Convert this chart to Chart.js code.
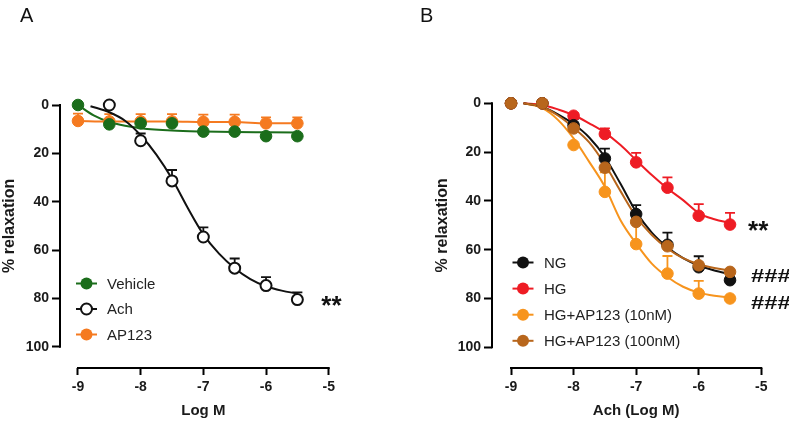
<!DOCTYPE html>
<html><head><meta charset="utf-8">
<script src="https://cdn.jsdelivr.net/npm/chart.js@4.4.1/dist/chart.umd.min.js"></script>
<style>
html,body{margin:0;padding:0;background:#fff;}
body{width:789px;height:428px;position:relative;overflow:hidden;}
canvas{position:absolute;top:0;}
#ca{left:0;} #cb{left:395px;}
</style></head><body>
<canvas id="ca" width="395" height="428"></canvas>
<canvas id="cb" width="394" height="428"></canvas>
<script>
// ---------- data ----------
const doseX = [-9, -8.5, -8, -7.5, -7, -6.5, -6, -5.5];
const xTicks = [-9, -8, -7, -6, -5];
const yTicks = [0, 20, 40, 60, 80, 100];
const fitX = [-8.8, -8.5, -8.25, -8, -7.75, -7.5, -7.25, -7, -6.75, -6.5, -6.25, -6, -5.75, -5.5];

// Panel A
const namesA = ['Vehicle', 'Ach', 'AP123'];
const vehicleMean = [0, 8, 7.6, 7.6, 11, 11, 12.9, 12.9];
const vehicleErr  = [0, 0, 0, 0, 0, 0, 0, 0];
const achMean = [null, 0, 14.8, 31.4, 54.6, 67.5, 74.7, 80.5];
const achErr  = [0, 0, 3, 4.5, 4, 4, 3.5, 3];
const ap123Mean = [6.6, 6.8, 6.8, 6.8, 7, 7, 7.6, 7.6];
const ap123Err  = [3, 3, 3, 3, 3, 3, 2.5, 2.5];
const vehicleFitX = [-9, -8.75, -8.5, -8.25, -8, -7.5, -7, -6.5, -6, -5.5];
const vehicleFit  = [0, 4.3, 7, 8.6, 9.6, 10.6, 11, 11.2, 11.3, 11.4];
const achFit = [0.5, 3, 6.5, 12.5, 20.5, 30.5, 42.5, 53.5, 61.5, 67.5, 72, 75, 76.8, 78];

// Panel B
const namesB = ['NG', 'HG', 'HG+AP123 (10nM)', 'HG+AP123 (100nM)'];
const ngMean = [0, 0, 9, 22.6, 45.4, 58, 67.2, 72.5];
const ngErr  = [0, 0, 2.5, 4, 3.7, 5, 4.5, 0];
const hgMean = [0, 0, 5.1, 12.6, 24.2, 34.6, 46.1, 49.7];
const hgErr  = [0, 0, 1, 2.3, 3.9, 4.2, 4.8, 4.8];
const ap10Mean = [0, 0, 17.1, 36.3, 57.7, 69.8, 78, 80];
const ap10Err  = [0, 0, 0, 8, 10, 7.2, 5.2, 0];
const ap100Mean = [0, 0, 10.3, 26.4, 48.6, 58.6, 66.4, 69.1];
const ap100Err  = [0, 0, 0, 0, 0, 0, 0, 0];
const ngFit    = [0, 1.5, 4.5, 8.5, 14, 22, 33, 44.5, 53, 59, 63.5, 66.5, 68.5, 70];
const hgFit    = [0, 0.7, 2.5, 4.8, 8.2, 12, 17.1, 23.3, 29.4, 34.9, 39.7, 45, 47.5, 49];
const ap10Fit  = [0, 2, 6.8, 14.4, 24, 34.2, 47.9, 57.5, 65.7, 71.2, 75.2, 77.6, 78.9, 79.6];
const ap100Fit = [0, 1.5, 5, 10, 16, 25, 36, 46.5, 54, 59.5, 63.5, 66, 67.5, 68.5];

// ---------- helpers ----------
const FONT = "'Liberation Sans', Arial, Helvetica, sans-serif";
Chart.defaults.font.family = FONT;
const pts = (xs, ys) => xs.map((x, i) => ({x: x, y: ys[i]}));

function pointSet(label, color, xs, ys, errs, order, open) {
  return {label: label, data: pts(xs, ys), errors: errs, legend: true, open: !!open,
    showLine: false, pointRadius: open ? 5.5 : 5.8, pointBorderWidth: open ? 2 : 1,
    borderColor: color, backgroundColor: open ? '#ffffff' : color,
    pointBackgroundColor: open ? '#ffffff' : color, pointBorderColor: color,
    order: order, clip: false};
}
function lineSet(color, xs, ys, order) {
  return {data: pts(xs, ys), showLine: true, pointRadius: 0, borderWidth: 2,
    borderColor: color, backgroundColor: color, cubicInterpolationMode: 'monotone',
    order: order, clip: false};
}

function panelPlugin(p) {
  return {
    id: 'panel' + p.letter,
    beforeDatasetsDraw(chart) {
      const ctx = chart.ctx, xs = chart.scales.x, ys = chart.scales.y;
      ctx.save();
      ctx.lineWidth = 1.8;
      chart.data.datasets.forEach(ds => {
        if (!ds.errors) return;
        ctx.strokeStyle = ds.borderColor;
        ds.data.forEach((pt, i) => {
          const e = ds.errors[i];
          if (pt.y == null || !e) return;
          const px = xs.getPixelForValue(pt.x), py = ys.getPixelForValue(pt.y);
          const pe = ys.getPixelForValue(pt.y - e);
          ctx.beginPath();
          ctx.moveTo(px, py); ctx.lineTo(px, pe);
          ctx.moveTo(px - 5, pe); ctx.lineTo(px + 5, pe);
          ctx.stroke();
        });
      });
      ctx.restore();
    },
    afterDraw(chart) {
      const ctx = chart.ctx, xs = chart.scales.x, ys = chart.scales.y, ca = chart.chartArea;
      ctx.save();
      // axis lines
      ctx.strokeStyle = '#000'; ctx.lineWidth = 2;
      ctx.beginPath();
      ctx.moveTo(ca.left, ys.getPixelForValue(yTicks[0]) - 1);
      ctx.lineTo(ca.left, ys.getPixelForValue(yTicks[yTicks.length - 1]) + 1);
      ctx.moveTo(xs.getPixelForValue(xTicks[0]) - 1, ca.bottom);
      ctx.lineTo(xs.getPixelForValue(xTicks[xTicks.length - 1]) + 1, ca.bottom);
      ctx.stroke();
      // axis titles
      ctx.fillStyle = '#1a1a1a';
      ctx.textAlign = 'center'; ctx.textBaseline = 'middle';
      ctx.font = 'bold 15px ' + FONT;
      ctx.fillText(p.xTitle, xs.getPixelForValue(-7), 411);
      ctx.save();
      ctx.translate(p.yTitleX, (ys.getPixelForValue(0) + ys.getPixelForValue(100)) / 2);
      ctx.rotate(-Math.PI / 2);
      ctx.font = 'bold 16px ' + FONT;
      ctx.fillText(p.yTitle, 0, 0);
      ctx.restore();
      // panel letter
      ctx.textAlign = 'left';
      ctx.font = '20px ' + FONT;
      ctx.fillStyle = '#111';
      ctx.fillText(p.letter, p.letterX, 16);
      // legend
      const L = p.legend;
      let k = 0;
      chart.data.datasets.filter(d => d.legend).sort((a, b) => a.legendIndex - b.legendIndex).forEach(ds => {
        const y = L.y + k * L.dy;
        ctx.strokeStyle = ds.borderColor; ctx.lineWidth = 2;
        ctx.beginPath(); ctx.moveTo(L.x, y); ctx.lineTo(L.x + L.len, y); ctx.stroke();
        ctx.beginPath(); ctx.arc(L.x + L.len / 2, y, ds.open ? 5.5 : 6, 0, Math.PI * 2);
        ctx.fillStyle = ds.open ? '#fff' : ds.borderColor; ctx.fill();
        if (ds.open) ctx.stroke();
        ctx.fillStyle = '#222';
        ctx.font = '15px ' + FONT;
        ctx.textBaseline = 'middle';
        ctx.fillText(ds.label, L.tx, y + 1);
        k++;
      });
      // significance marks
      p.annos.forEach(a => {
        ctx.save();
        ctx.font = 'bold ' + a.size + 'px ' + FONT;
        ctx.fillStyle = '#111';
        ctx.textBaseline = 'alphabetic';
        const yc = ys.getPixelForValue(a.y);
        ctx.translate(xs.getPixelForValue(a.x) + a.dx, yc + a.size * a.k);
        ctx.scale(a.sx || 1, 1);
        ctx.fillText(a.t, 0, 0);
        ctx.restore();
      });
      ctx.restore();
    }
  };
}

function makeChart(id, datasets, geo, p) {
  const canvas = document.getElementById(id);
  return new Chart(canvas, {
    type: 'scatter',
    data: {datasets: datasets},
    options: {
      responsive: false, animation: false, devicePixelRatio: 1, events: [],
      layout: {padding: {left: 0, top: geo.top, right: geo.right, bottom: 0}},
      plugins: {legend: {display: false}, tooltip: {enabled: false}},
      scales: {
        x: {type: 'linear', position: 'bottom', min: geo.xMin, max: -5,
          afterBuildTicks: s => { s.ticks = xTicks.map(v => ({value: v})); },
          afterFit: s => { s.height = 60; },
          ticks: {font: {size: 14, weight: 'bold'}, color: '#1a1a1a', padding: 4},
          grid: {drawOnChartArea: false, drawTicks: true, tickLength: 7, tickWidth: 2, tickColor: '#000'},
          border: {display: false}},
        y: {type: 'linear', position: 'left', reverse: true, min: 0, max: geo.yMax,
          afterBuildTicks: s => { s.ticks = yTicks.map(v => ({value: v})); },
          afterFit: s => { s.width = geo.yw; },
          ticks: {font: {size: 14, weight: 'bold'}, color: '#1a1a1a', padding: 3},
          grid: {drawOnChartArea: false, drawTicks: true, tickLength: 8, tickWidth: 2, tickColor: '#000'},
          border: {display: false}}
      }
    },
    plugins: [panelPlugin(p)]
  });
}

// ---------- Panel A ----------
const cGreen = '#1b6d1b', cOrangeA = '#f57a20', cBlack = '#111111';
const dsA = [
  lineSet(cGreen, vehicleFitX, vehicleFit, 6),
  lineSet(cOrangeA, doseX, ap123Mean, 5),
  Object.assign(pointSet(namesA[2], cOrangeA, doseX, ap123Mean, ap123Err, 4), {legendIndex: 2}),
  Object.assign(pointSet(namesA[0], cGreen, doseX, vehicleMean, vehicleErr, 3), {legendIndex: 0}),
  lineSet(cBlack, fitX, achFit, 1),
  Object.assign(pointSet(namesA[1], cBlack, doseX, achMean, achErr, 0, true), {legendIndex: 1})
];
makeChart('ca', dsA, {top: 105, right: 66.3, xMin: -9.287, yMax: 108.8, yw: 60},
  {letter: 'A', letterX: 20, yTitle: '% relaxation', yTitleX: 10, xTitle: 'Log M',
   legend: {x: 76, y: 283.5, dy: 25.5, len: 21, tx: 107},
   annos: [{t: '**', x: -5.5, y: 80.5, dx: 24, size: 26, k: 0.57}]});

// ---------- Panel B ----------
const cRed = '#ee1c24', cAmber = '#f7941d', cBrown = '#b8661c';
const dsB = [
  lineSet(cAmber, fitX, ap10Fit, 9),
  lineSet(cRed, fitX, hgFit, 8),
  lineSet(cBlack, fitX, ngFit, 7),
  lineSet(cBrown, fitX, ap100Fit, 6),
  Object.assign(pointSet(namesB[2], cAmber, doseX, ap10Mean, ap10Err, 4), {legendIndex: 2}),
  Object.assign(pointSet(namesB[1], cRed, doseX, hgMean, hgErr, 3), {legendIndex: 1}),
  Object.assign(pointSet(namesB[0], cBlack, doseX, ngMean, ngErr, 2), {legendIndex: 0}),
  Object.assign(pointSet(namesB[3], cBrown, doseX, ap100Mean, ap100Err, 1), {legendIndex: 3})
];
makeChart('cb', dsB, {top: 103.3, right: 27.7, xMin: -9.304, yMax: 108.5, yw: 97},
  {letter: 'B', letterX: 25, yTitle: '% relaxation', yTitleX: 48, xTitle: 'Ach (Log M)',
   legend: {x: 117.5, y: 262.5, dy: 26.1, len: 21, tx: 149},
   annos: [{t: '**', x: -5.5, y: 49.7, dx: 18, size: 26, k: 0.57},
           {t: '###', x: -5.5, y: 70.5, dx: 21, size: 19, k: 0.36, sx: 1.25},
           {t: '###', x: -5.5, y: 81.5, dx: 21, size: 19, k: 0.36, sx: 1.25}]});
</script>
</body></html>
